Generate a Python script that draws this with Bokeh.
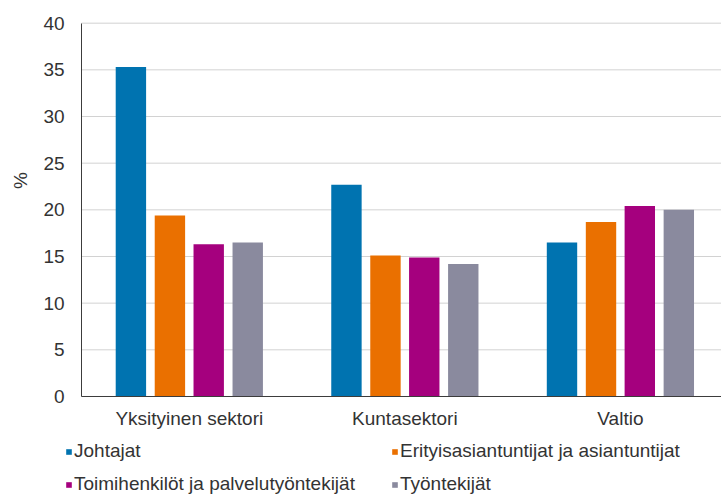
import math
from bokeh.plotting import figure
from bokeh.models import (ColumnDataSource, Range1d, Legend, LegendItem,
                          FixedTicker, Label)
from bokeh.transform import dodge
from bokeh.embed import file_html
from bokeh.resources import INLINE

categories = ["Yksityinen sektori", "Kuntasektori", "Valtio"]
series_names = ["Johtajat",
                "Erityisasiantuntijat ja asiantuntijat",
                "Toimihenkilöt ja palvelutyöntekijät",
                "Työntekijät"]
johtajat = [35.3, 22.7, 16.5]
erityisasiantuntijat = [19.4, 15.1, 18.7]
toimihenkilot = [16.3, 14.9, 20.4]
tyontekijat = [16.5, 14.2, 20.0]
y_ticks = [0, 5, 10, 15, 20, 25, 30, 35, 40]
y_label = "%"

colors = ["#0073b0", "#ea7000", "#a5007e", "#8a8a9e"]
offsets = [-0.271, -0.090, 0.090, 0.271]
bar_width = 0.141
FONT = "Liberation Sans"
FS = "19px"
TXT = "#333333"

ncat = len(categories)
centers = [i + 0.5 for i in range(ncat)]
source = ColumnDataSource(dict(x=centers, s0=johtajat, s1=erityisasiantuntijat,
                               s2=toimihenkilot, s3=tyontekijat))

# The frame covers the whole canvas; axes are pinned at the data origin.
p = figure(x_range=Range1d(-0.376, 2.969), y_range=Range1d(-10.61, 42.43),
           width=721, height=495, output_backend="svg", toolbar_location=None,
           min_border=0)
p.outline_line_color = None
p.background_fill_color = "white"
p.border_fill_color = "white"
p.xgrid.visible = False
p.ygrid.visible = False

# horizontal gridlines from the axis to the right edge
p.segment(x0=[0] * len(y_ticks), x1=[ncat] * len(y_ticks), y0=y_ticks, y1=y_ticks,
          line_color="#d2d2d2", line_width=1)

renderers = []
for i, key in enumerate(["s0", "s1", "s2", "s3"]):
    r = p.vbar(x=dodge("x", offsets[i]), top=key, width=bar_width,
               source=source, fill_color=colors[i], line_color=None)
    renderers.append(r)

xa = p.xaxis[0]
ya = p.yaxis[0]
xa.fixed_location = 0
ya.fixed_location = 0
xa.bounds = (0, ncat)
ya.bounds = (y_ticks[0], y_ticks[-1])
ya.ticker = FixedTicker(ticks=y_ticks)
xa.ticker = FixedTicker(ticks=centers)
xa.major_label_overrides = {c: name for c, name in zip(centers, categories)}
for ax in (xa, ya):
    ax.axis_line_color = "#3c3c3c"
    ax.axis_line_width = 1
    ax.major_tick_line_color = None
    ax.minor_tick_line_color = None
    ax.major_tick_out = 0
    ax.major_tick_in = 0
    ax.major_label_text_font = FONT
    ax.major_label_text_font_size = FS
    ax.major_label_text_color = TXT
ya.major_label_standoff = 17
xa.major_label_standoff = 12

p.add_layout(Label(x=20, y=315, x_units="screen", y_units="screen", text=y_label,
                   angle=math.pi / 2, text_font=FONT, text_font_size=FS,
                   text_color=TXT, text_align="center", text_baseline="middle"))

def make_legend(items, x):
    return Legend(items=items, location=(x, 0), orientation="vertical",
                  glyph_width=7, glyph_height=7, label_standoff=2,
                  label_text_font=FONT, label_text_font_size=FS,
                  label_text_color=TXT, label_height=21, spacing=11,
                  padding=0, margin=0, border_line_color=None,
                  background_fill_alpha=0)

leg1 = make_legend([LegendItem(label=series_names[0], renderers=[renderers[0]]),
                    LegendItem(label=series_names[2], renderers=[renderers[2]])], 65)
leg2 = make_legend([LegendItem(label=series_names[1], renderers=[renderers[1]]),
                    LegendItem(label=series_names[3], renderers=[renderers[3]])], 391)
p.add_layout(leg1, "center")
p.add_layout(leg2, "center")

open("out.html", "w").write(file_html(p, INLINE))
